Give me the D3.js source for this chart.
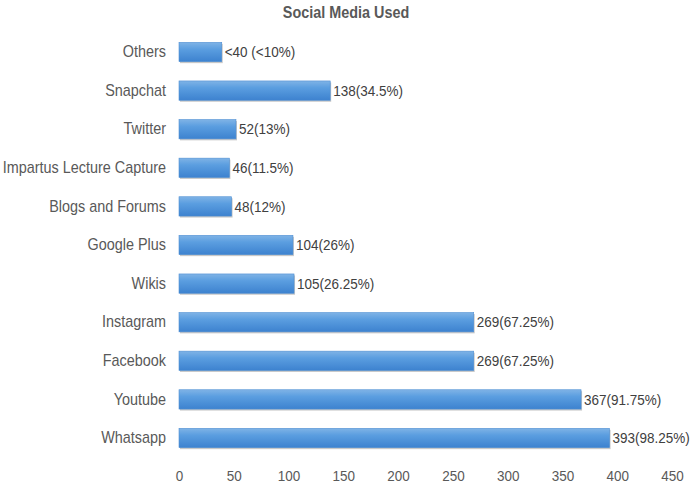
<!DOCTYPE html>
<html><head><meta charset="utf-8">
<script src="https://cdn.jsdelivr.net/npm/d3@7"></script>
<style>body{margin:0;background:#fff}svg{display:block}text{font-family:"Liberation Sans",Arial,sans-serif}</style>
</head><body>
<svg id="c" width="693" height="488"></svg>
<script>
const categories = ["Others","Snapchat","Twitter","Impartus Lecture Capture","Blogs and Forums","Google Plus","Wikis","Instagram","Facebook","Youtube","Whatsapp"];
const values = [39,138,52,46,48,104,105,269,269,367,393];
const valueLabels = ["<40 (<10%)","138(34.5%)","52(13%)","46(11.5%)","48(12%)","104(26%)","105(26.25%)","269(67.25%)","269(67.25%)","367(91.75%)","393(98.25%)"];
const tickValues = [0,50,100,150,200,250,300,350,400,450];
const title = "Social Media Used";
const sx = 0.9;

const svg = d3.select("#c");
const x = d3.scaleLinear().domain([0,450]).range([179,672]);
const y = d3.scaleBand().domain(categories).range([32.7,457.3]).paddingInner(0.5).paddingOuter(0.25);

const defs = svg.append("defs");
const g = defs.append("linearGradient").attr("id","bg").attr("x1",0).attr("y1",0).attr("x2",0).attr("y2",1);
g.append("stop").attr("offset","0%").attr("stop-color","#7fb3e6");
g.append("stop").attr("offset","35%").attr("stop-color","#5b9ee0");
g.append("stop").attr("offset","100%").attr("stop-color","#3d82cf");

svg.append("text").attr("transform",`translate(346,18) scale(${sx},1)`).attr("text-anchor","middle")
  .attr("font-size",16).attr("font-weight","bold").attr("fill","#595959").text(title);

// shadow
svg.append("g").selectAll("rect").data(values).join("rect")
  .attr("x",x(0)+1).attr("y",(d,i)=>y(categories[i])+1.5)
  .attr("width",d=>x(d)-x(0)).attr("height",y.bandwidth())
  .attr("fill","#c8c8c8");
svg.append("g").selectAll("rect").data(values).join("rect")
  .attr("x",x(0)).attr("y",(d,i)=>y(categories[i]))
  .attr("width",d=>x(d)-x(0)).attr("height",y.bandwidth())
  .attr("fill","url(#bg)").attr("stroke","#4f8fd3").attr("stroke-width",0.6);

svg.append("g").selectAll("text").data(values).join("text")
  .attr("transform",(d,i)=>`translate(${x(d)+3},${y(categories[i])+y.bandwidth()/2}) scale(${sx},1)`)
  .attr("dy","0.35em").attr("font-size",15).attr("fill","#404040")
  .text((d,i)=>valueLabels[i]);

const ya = svg.append("g").attr("transform","translate(166,0)")
  .call(d3.axisLeft(y).tickSize(0).tickPadding(0));
ya.select(".domain").remove();
ya.selectAll("text").attr("font-size",16).attr("fill","#595959").attr("font-family",null)
  .attr("x",0).attr("transform",`scale(${sx},1)`);

const xa = svg.append("g").attr("transform","translate(0,470)")
  .call(d3.axisBottom(x).tickValues(tickValues).tickSize(0).tickPadding(0));
xa.select(".domain").remove();
xa.selectAll("text").attr("font-size",15).attr("fill","#595959").attr("font-family",null)
  .attr("transform",`scale(${sx},1)`);
</script>
</body></html>
